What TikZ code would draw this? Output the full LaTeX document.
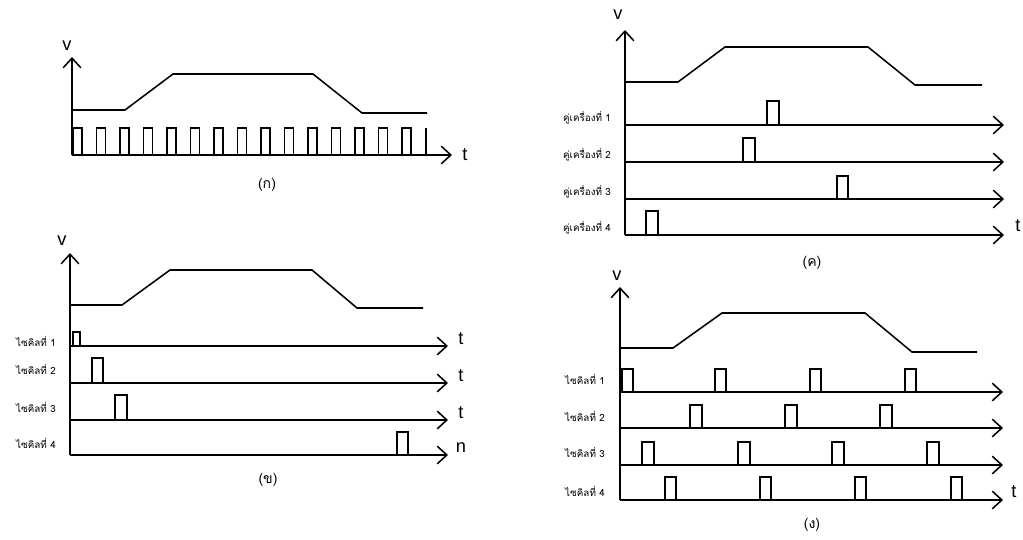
\documentclass[tikz,border=0pt]{standalone}
\usepackage{fontspec}
\setmainfont{Liberation Sans}
\newfontfamily\thaifont[Script=Thai]{Loma}
\usetikzlibrary{arrows.meta}

\begin{document}
\begin{tikzpicture}[x=0.025cm, y=-0.025cm,
		axis/.style={line width=1.1pt, -{Straight Barb[length=2.4mm, width=4.4mm]}},
		signal/.style={line width=1.1pt},
		varname/.style={font=\fontsize{13}{13}\selectfont, inner sep=0pt},
		rowlabel/.style={font=\thaifont\fontsize{7}{8}\selectfont, inner sep=0pt},
		caption/.style={font=\thaifont\fontsize{10}{12}\selectfont, inner sep=0pt}
		]
		\useasboundingbox (0,0) rectangle (1023,539);
		
		% (ก)
		\coordinate (oA) at (72,155);
		\draw[axis] (oA) -- (72,57);
		\draw[axis] (oA) -- (452,155);
		\node[varname] (vA) at (67,46) {v};
		\node[varname] (tA) at (465,155) {t};
		\draw[signal] (72,110) -- (125,110) -- (173,74) -- (313,74) -- (362,113) -- (427,113);
		\foreach \i in {0,...,14}
			\draw[signal] ({73+23.5*\i},155) -- ++(0,-27) -- ++(9,0) -- ++(0,27);
		\draw[signal] (426,155) -- (426,128);
		\node[caption] (capA) at (267,185) {(ก)};
		
		% (ข)
		\coordinate (oB) at (70,455);
		\draw[axis] (oB) -- (70,253);
		\node[varname] (vB) at (62,241) {v};
		\draw[signal] (70,305) -- (122,305) -- (170,270) -- (312,270) -- (357,308) -- (423,308);
		\foreach \y/\n/\lab in {346/1/t, 383/2/t, 420/3/t, 455/4/n} {
			\draw[axis] (70,\y) -- (448,\y);
			\node[varname] (tB\n) at (461,\y-7) {\lab};
		}
		\node[rowlabel] (lB1) at (36,341) {ไซคิลที่ 1};
		\node[rowlabel] (lB2) at (36,369) {ไซคิลที่ 2};
		\node[rowlabel] (lB3) at (36,407) {ไซคิลที่ 3};
		\node[rowlabel] (lB4) at (36,443) {ไซคิลที่ 4};
		\draw[signal] (73,346) -- (73,332) -- (80,332) -- (80,346);
		\draw[signal] (92,383) -- (92,358) -- (103,358) -- (103,383);
		\draw[signal] (115,420) -- (115,395) -- (127,395) -- (127,420);
		\draw[signal] (397,455) -- (397,432) -- (408,432) -- (408,455);
		\node[caption] (capB) at (268,480) {(ข)};
		
		% (ค)
		\coordinate (oC) at (625,235);
		\draw[axis] (oC) -- (625,30);
		\node[varname] (vC) at (618,15) {v};
		\draw[signal] (625,82) -- (678,82) -- (725,47) -- (868,47) -- (915,85) -- (982,85);
		\foreach \y/\n in {125/1, 162/2, 199/3, 235/4}
			\draw[axis] (625,\y) -- (1004,\y);
		\node[varname] (tC) at (1018,226) {t};
		\node[rowlabel] (lC1) at (587,118) {คู่เครื่องที่ 1};
		\node[rowlabel] (lC2) at (587,155) {คู่เครื่องที่ 2};
		\node[rowlabel] (lC3) at (587,192) {คู่เครื่องที่ 3};
		\node[rowlabel] (lC4) at (587,228) {คู่เครื่องที่ 4};
		\draw[signal] (767,125) -- (767,101) -- (779,101) -- (779,125);
		\draw[signal] (743,162) -- (743,138) -- (755,138) -- (755,162);
		\draw[signal] (837,199) -- (837,176) -- (848,176) -- (848,199);
		\draw[signal] (646,235) -- (646,211) -- (658,211) -- (658,235);
		\node[caption] (capC) at (812,263) {(ค)};
		
		% (ง)
		\coordinate (oD) at (620,500);
		\draw[axis] (oD) -- (620,287);
		\node[varname] (vD) at (617,276) {v};
		\draw[signal] (620,348) -- (673,348) -- (722,313) -- (865,313) -- (912,352) -- (977,352);
		\foreach \y in {392, 428, 465, 500}
			\draw[axis] (620,\y) -- (1003,\y);
		\node[varname] (tD) at (1014,492) {t};
		\node[rowlabel] (lD1) at (585,379) {ไซคิลที่ 1};
		\node[rowlabel] (lD2) at (585,416) {ไซคิลที่ 2};
		\node[rowlabel] (lD3) at (585,452) {ไซคิลที่ 3};
		\node[rowlabel] (lD4) at (585,491) {ไซคิลที่ 4};
		\foreach \x in {622, 715, 810, 905}
			\draw[signal] (\x,392) -- (\x,369) -- (\x+11,369) -- (\x+11,392);
		\foreach \x in {690, 785, 880}
			\draw[signal] (\x,428) -- (\x,405) -- (\x+12,405) -- (\x+12,428);
		\foreach \x in {642, 738, 832, 927}
			\draw[signal] (\x,465) -- (\x,442) -- (\x+12,442) -- (\x+12,465);
		\foreach \x in {665, 760, 855, 951}
			\draw[signal] (\x,500) -- (\x,477) -- (\x+11,477) -- (\x+11,500);
		\node[caption] (capD) at (812,525) {(ง)};
		
	\end{tikzpicture}
\end{document}
